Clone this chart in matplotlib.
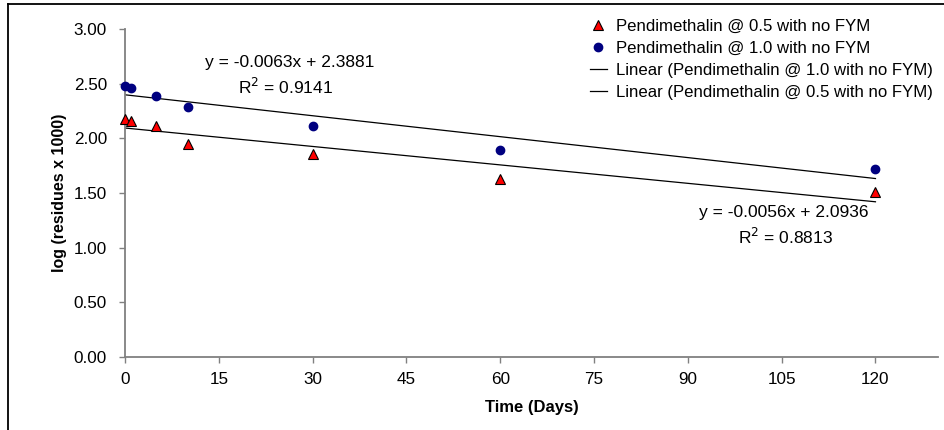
import numpy as np
import matplotlib.pyplot as plt
from matplotlib.lines import Line2D
from matplotlib.ticker import FormatStrFormatter

plt.rcParams['font.family'] = ['Liberation Sans', 'DejaVu Sans']

days = [0, 1, 5, 10, 30, 60, 120]
res_05 = [2.18, 2.16, 2.11, 1.945, 1.86, 1.63, 1.505]
res_10 = [2.48, 2.46, 2.39, 2.29, 2.115, 1.89, 1.72]
x_ticks = [0, 15, 30, 45, 60, 75, 90, 105, 120]
y_ticks = [0.0, 0.5, 1.0, 1.5, 2.0, 2.5, 3.0]

lab_05 = "Pendimethalin @ 0.5 with no FYM"
lab_10 = "Pendimethalin @ 1.0 with no FYM"

W, H = 945, 430
fig = plt.figure(figsize=(W / 100, H / 100), dpi=100)
ax = fig.add_axes([125 / W, 73 / H, 813 / W, 328 / H])

x = np.array(days, dtype=float)
fit_10 = np.polyfit(x, res_10, 1)
fit_05 = np.polyfit(x, res_05, 1)
xl = np.array([0, 120])

ax.plot(days, res_05, linestyle='none', marker='^', markersize=7.5,
        markerfacecolor='#ff0000', markeredgecolor='black', markeredgewidth=0.8,
        label=lab_05, zorder=3, clip_on=False)
ax.plot(days, res_10, linestyle='none', marker='o', markersize=6,
        markerfacecolor='#000080', markeredgecolor='#000080',
        label=lab_10, zorder=3, clip_on=False)
ax.plot(xl, np.polyval(fit_10, xl), color='black', lw=0.9,
        label="Linear (" + lab_10 + ")")
ax.plot(xl, np.polyval(fit_05, xl), color='black', lw=0.9,
        label="Linear (" + lab_05 + ")")

ax.set_xlim(0, 130)
ax.set_ylim(0, 3)
ax.set_xticks(x_ticks)
ax.set_yticks(y_ticks)
ax.yaxis.set_major_formatter(FormatStrFormatter('%.2f'))
for s in ['top', 'right']:
    ax.spines[s].set_visible(False)
for s in ['left', 'bottom']:
    ax.spines[s].set_color('#808080')
    ax.spines[s].set_linewidth(1.3)
ax.tick_params(axis='both', colors='#808080', length=4, width=1, labelsize=12.3,
               labelcolor='black')
ax.tick_params(axis='y', pad=9)
ax.tick_params(axis='x', pad=7)

ax.set_xlabel("Time (Days)", fontsize=12, fontweight='bold', labelpad=9)
ax.set_ylabel("log (residues x 1000)", fontsize=11.5, fontweight='bold', labelpad=5)

# trendline equations, positions in pixels from the top-left corner
eqs = [
    (290, 63, "y = -0.0063x + 2.3881"),
    (286, 87, "R$^2$ = 0.9141"),
    (784, 213, "y = -0.0056x + 2.0936"),
    (786, 237, "R$^2$ = 0.8813"),
]
for px, py, s in eqs:
    fig.text(px / W, 1 - py / H, s, fontsize=12.5, ha='center', va='center')

ax.legend(loc='upper left', bbox_to_anchor=(590 / W, 1 - 19 / H),
          bbox_transform=fig.transFigure, frameon=False, fontsize=12.1,
          handlelength=1.0, handletextpad=0.55, labelspacing=0.42,
          borderpad=0, borderaxespad=0)

# outer chart border (only left and top visible)
fig.add_artist(Line2D([8 / W, 8 / W], [0, 1 - 4 / H], color='black', lw=1.3,
                      transform=fig.transFigure))
fig.add_artist(Line2D([8 / W, 1], [1 - 4 / H, 1 - 4 / H], color='black', lw=1.3,
                      transform=fig.transFigure))

fig.savefig("out.png", dpi=100)
